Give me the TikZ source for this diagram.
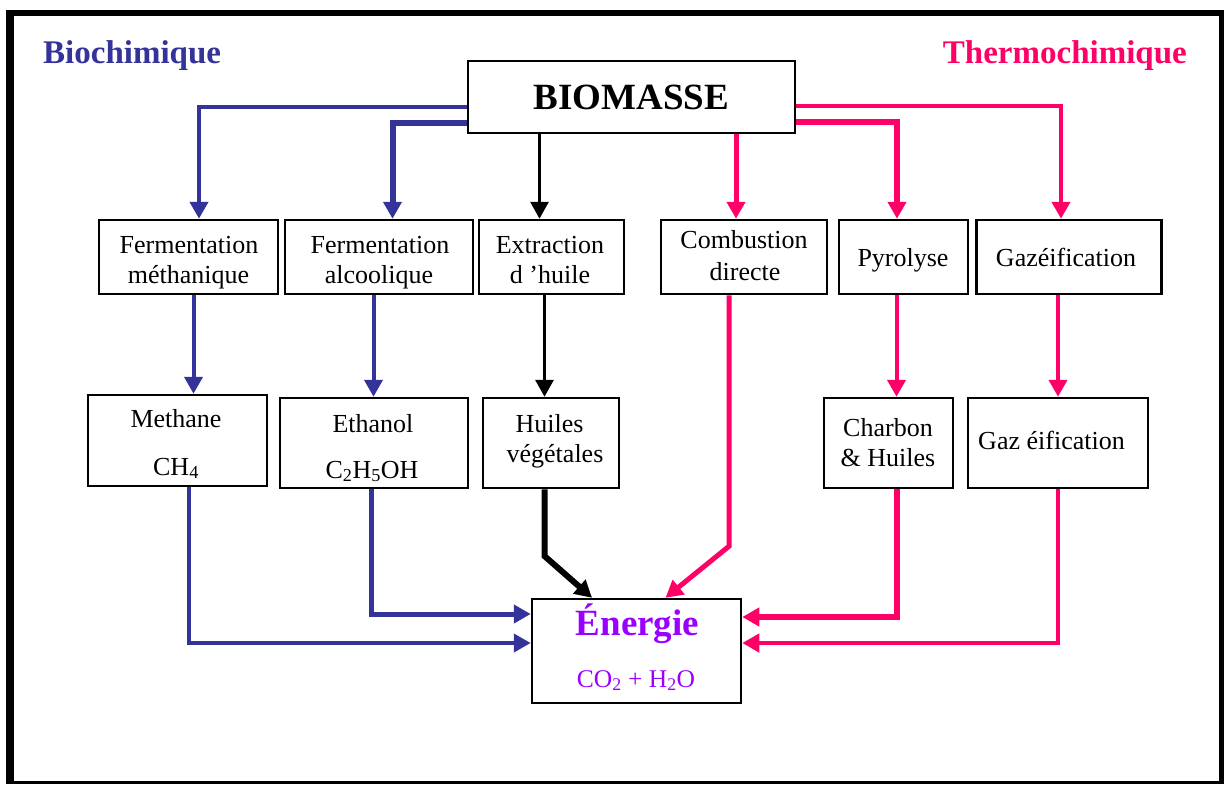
\documentclass[tikz,border=0pt]{standalone}
\usepackage{fontspec}
\setmainfont{Liberation Serif}
\usetikzlibrary{arrows.meta}
\definecolor{bioblue}{HTML}{333399}
\definecolor{thpink}{HTML}{FF0066}
\definecolor{enpurple}{HTML}{9900FF}
\tikzset{
  box/.style={draw=black, line width=2.5pt, fill=white, inner sep=0pt},
  lbl/.style={anchor=base, inner sep=0pt, font=\fontsize{26}{26}\selectfont},
  tip/.style={-{Triangle[length=17pt,width=18pt]}},
  bl/.style={tip, draw=bioblue, line width=4pt},
  blthick/.style={tip, draw=bioblue, line width=6pt},
  pk/.style={tip, draw=thpink, line width=4pt},
  pkthick/.style={tip, draw=thpink, line width=6pt},
  bk/.style={tip, draw=black, line width=3pt},
  bkthick/.style={tip, draw=black, line width=6pt},
  frameline/.style={draw=black},
}
\begin{document}
\begin{tikzpicture}[x=1pt,y=-1pt]
\useasboundingbox (0,0) rectangle (1226,785);
\fill[white] (0,0) rectangle (1226,785);
% frame
\draw[frameline, line width=6pt] (6,13) -- (1223.5,13);
\draw[frameline, line width=8pt] (10,10) -- (10,784);
\draw[frameline, line width=5pt] (1221,10) -- (1221,784);
\draw[frameline, line width=3pt] (6,782.5) -- (1223.5,782.5);
% titles
\node[anchor=base west, inner sep=0pt, text=bioblue, font=\fontsize{33}{33}\selectfont\bfseries] (tbio) at (43,63) {Biochimique};
\node[anchor=base east, inner sep=0pt, text=thpink, font=\fontsize{33}{33}\selectfont\bfseries] (tthermo) at (1187,63) {Thermochimique};
% boxes
\node[box, minimum width=327pt, minimum height=72pt, font=\fontsize{37}{37}\selectfont\bfseries] (bio) at (631.5,97) {BIOMASSE};
\node[box, minimum width=179pt, minimum height=74pt] (fm) at (188.5,257) {};
\node[box, minimum width=188pt, minimum height=74pt] (fa) at (379,257) {};
\node[box, minimum width=145pt, minimum height=74pt] (ex) at (551.5,257) {};
\node[box, minimum width=166pt, minimum height=74pt] (co) at (744,257) {};
\node[box, minimum width=129pt, minimum height=74pt] (py) at (903.5,257) {};
\node[box, minimum width=185pt, minimum height=74pt] (ga) at (1069,257) {};
\node[box, minimum width=179pt, minimum height=91pt] (me) at (177.5,440.5) {};
\node[box, minimum width=188pt, minimum height=90pt] (et) at (374,443) {};
\node[box, minimum width=136pt, minimum height=90pt] (hu) at (551,443) {};
\node[box, minimum width=129pt, minimum height=90pt] (ch) at (888.5,443) {};
\node[box, minimum width=180pt, minimum height=90pt] (g2) at (1058,443) {};
\node[box, minimum width=209pt, minimum height=104pt] (en) at (636.5,651) {};
% box texts
\node[lbl] (fmA) at (189,253) {Fermentation};
\node[lbl] (fmB) at (188.5,283) {méthanique};
\node[lbl] (faA) at (380,253) {Fermentation};
\node[lbl] (faB) at (379,283) {alcoolique};
\node[lbl] (exA) at (550,253) {Extraction};
\node[lbl] (exB) at (550,283) {d ’huile};
\node[lbl] (coA) at (744,248) {Combustion};
\node[lbl] (coB) at (745,280) {directe};
\node[lbl] (pyA) at (903,266) {Pyrolyse};
\node[lbl] (gaA) at (1066,266) {Gazéification};
\node[lbl] (meA) at (176,427) {Methane};
\node[lbl] (meB) at (176,475) {CH\textsubscript{4}};
\node[lbl] (etA) at (373,432) {Ethanol};
\node[lbl] (etB) at (372,478) {C\textsubscript{2}H\textsubscript{5}OH};
\node[lbl] (huA) at (549.5,432) {Huiles};
\node[lbl] (huB) at (555,462) {végétales};
\node[lbl] (chA) at (888,436) {Charbon};
\node[lbl] (chB) at (888,466) {\& Huiles};
\node[lbl] (g2A) at (1051.5,449) {Gaz éification};
\node[anchor=base, inner sep=0pt, text=enpurple, font=\fontsize{37}{37}\selectfont\bfseries] (entitle) at (637.5,635) {Énergie};
\node[anchor=base, inner sep=0pt, text=enpurple, font=\fontsize{25.5}{25.5}\selectfont] (enform) at (636,687) {CO\textsubscript{2} + H\textsubscript{2}O};
% BIOMASSE -> first row
\draw[bl, line width=4.5pt] ([yshift=-10pt]bio.west) -| ([xshift=10.5pt]fm.north);
\draw[blthick] ([yshift=-26pt]bio.west) -| ([xshift=13.5pt]fa.north);
\draw[bk] ([xshift=-92pt]bio.south) -- ([xshift=-92pt]bio.south |- ex.north);
\draw[pk, line width=5pt] ([xshift=104.5pt]bio.south) -- ([xshift=104.5pt]bio.south |- co.north);
\draw[pkthick] ([yshift=-25pt]bio.east) -| ([xshift=-6.5pt]py.north);
\draw[pk, line width=4.5pt] ([yshift=-9pt]bio.east) -| ([xshift=-8pt]ga.north);
% first row -> second row
\draw[bl] ([xshift=5pt]fm.south) -- ([xshift=5pt]fm.south |- me.north);
\draw[bl] ([xshift=-5.5pt]fa.south) -- ([xshift=-5.5pt]fa.south |- et.north);
\draw[bk, line width=3.5pt] ([xshift=-7pt]ex.south) -- ([xshift=-7pt]ex.south |- hu.north);
\draw[pk] ([xshift=-7pt]py.south) -- ([xshift=-7pt]py.south |- ch.north);
\draw[pk] ([xshift=-11pt]ga.south) -- ([xshift=-11pt]ga.south |- g2.north);
% second row -> Energie
\draw[bl] ([xshift=11.5pt]me.south) |- ([yshift=8pt]en.west);
\draw[blthick, line width=5pt] ([xshift=-2.5pt]et.south) |- ([yshift=37pt]en.west);
\draw[bkthick] ([xshift=-6.3pt]hu.south) -- ++(0,67) -- ([xshift=-44.5pt]en.north);
\draw[pk, line width=5pt] ([xshift=-15pt]co.south) -- ++(0,251) -- ([xshift=29pt]en.north);
\draw[pkthick] ([xshift=8pt]ch.south) |- ([yshift=34pt]en.east);
\draw[pk, line width=4.5pt] (g2.south) |- ([yshift=8pt]en.east);
\end{tikzpicture}
\end{document}
